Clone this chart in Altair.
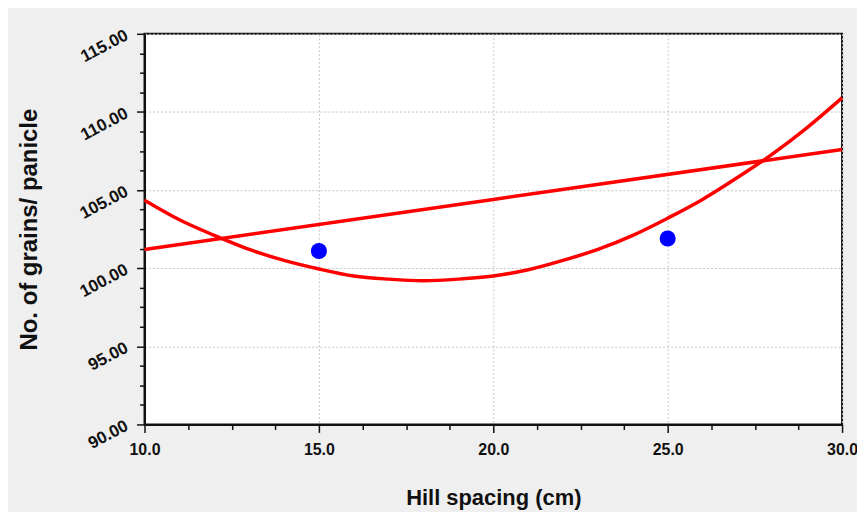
import altair as alt
import pandas as pd

# observed means
obs_x = [15, 25]
obs_y = [101.1, 101.9]

# quadratic fit curve
quad_x = [10, 11, 12, 13, 14, 15, 16, 17, 18, 19, 20, 21, 22, 23, 24, 25, 26, 27, 28, 29, 30]
quad_y = [104.35, 103.1, 102.1, 101.2, 100.5, 99.95, 99.5, 99.3, 99.2, 99.3, 99.5, 99.9,
          100.5, 101.2, 102.1, 103.2, 104.4, 105.8, 107.3, 109.0, 110.9]

# linear fit line
lin_x = [10, 20, 30]
lin_y = [101.2, 104.4, 107.6]

x_ticks = [10 + 1.25 * i for i in range(17)]
y_ticks = [90 + 1.25 * i for i in range(21)]

obs = pd.DataFrame({"x": obs_x, "y": obs_y})
quad = pd.DataFrame({"x": quad_x, "y": quad_y})
lin = pd.DataFrame({"x": lin_x, "y": lin_y})

FONT = "Liberation Sans"
major = "datum.value % 5 === 0"

x_axis = alt.Axis(
    values=x_ticks,
    labelExpr=f"{major} ? format(datum.value, '.1f') : ''",
    labelOverlap=False, labelFlush=False,
    labelFont=FONT, labelFontSize=16, labelFontWeight="bold", labelColor="#111",
    labelPadding=9,
    tickColor="#111", tickWidth=1.5,
    tickSize={"condition": {"test": major, "value": 8}, "value": 5},
    grid=True, gridColor="#c4c4c4", gridDash=[2, 2], gridWidth=1,
    gridOpacity={"condition": {"test": major, "value": 1}, "value": 0},
    domainColor="#111", domainWidth=2,
    title="Hill spacing (cm)", titleFont=FONT, titleFontSize=22, titleFontWeight="bold",
    titleColor="#111", titleX=350, titleY=73, titleBaseline="middle",
)

y_axis = alt.Axis(
    values=y_ticks,
    labelExpr=f"{major} ? format(datum.value, '.2f') : ''",
    labelOverlap=False, labelFlush=False,
    labelFont=FONT, labelFontSize=17, labelFontWeight="bold", labelColor="#111",
    labelAngle=332, labelPadding=10, labelAlign="right", labelBaseline="middle",
    tickColor="#111", tickWidth=1.5,
    tickSize={"condition": {"test": major, "value": 8}, "value": 5},
    grid=True, gridColor="#c4c4c4", gridDash=[2, 2], gridWidth=1,
    gridOpacity={"condition": {"test": major, "value": 1}, "value": 0},
    domainColor="#111", domainWidth=2,
    title="No. of grains/ panicle", titleFont=FONT, titleFontSize=24, titleFontWeight="bold",
    titleColor="#111", titleX=-115, titleY=196, titleBaseline="middle",
)

xs = alt.Scale(domain=[10, 30], nice=False, zero=False)
ys = alt.Scale(domain=[90, 115], nice=False, zero=False)

quad_line = alt.Chart(quad).mark_line(color="#ff0000", strokeWidth=3.5, interpolate="monotone").encode(
    x=alt.X("x:Q", scale=xs, axis=x_axis),
    y=alt.Y("y:Q", scale=ys, axis=y_axis),
)
lin_line = alt.Chart(lin).mark_line(color="#ff0000", strokeWidth=3.5).encode(
    x=alt.X("x:Q", scale=xs, axis=x_axis),
    y=alt.Y("y:Q", scale=ys, axis=y_axis),
)
points = alt.Chart(obs).mark_point(filled=True, color="#0000ff", opacity=1, size=260, shape="circle").encode(
    x=alt.X("x:Q", scale=xs, axis=x_axis),
    y=alt.Y("y:Q", scale=ys, axis=y_axis),
)

chart = alt.layer(quad_line, lin_line, points).properties(
    width=700,
    height=392,
    autosize=alt.AutoSizeParams(type="none"),
    padding={"left": 137, "top": 25, "right": 15, "bottom": 95},
    background="#efefef",
).configure_view(
    fill="white", stroke="#111", strokeWidth=2
)

chart.save("out.html", embed_options={"renderer": "svg", "actions": False})
